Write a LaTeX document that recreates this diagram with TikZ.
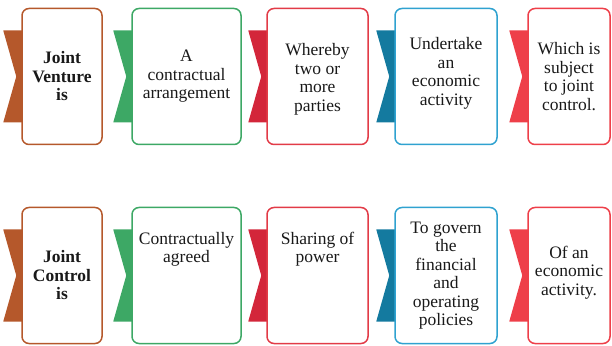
\documentclass[tikz,border=0pt]{standalone}
\usepackage{tikz}
\usepackage{fontspec}
\setmainfont{Liberation Serif}
\usetikzlibrary{positioning, backgrounds}
\definecolor{brn}{HTML}{B5582B}
\definecolor{grn}{HTML}{3DA865}
\definecolor{redt}{HTML}{D3263A}
\definecolor{redb}{HTML}{E23B47}
\definecolor{blut}{HTML}{147A9F}
\definecolor{blub}{HTML}{2FA2D0}
\definecolor{pnk}{HTML}{EE3F49}
\tikzset{
	card/.style={draw=#1, line width=1.5pt, rounded corners=7pt, fill=white, minimum height=136pt, inner sep=0pt},
	txt/.style={align=center, font=\fontsize{17.5}{18.5}\selectfont, inner sep=0pt, text=black!90},
	head/.style={txt, font=\fontsize{17.5}{18.5}\selectfont\bfseries}
}

\begin{document}
\begin{tikzpicture}[x=1pt, y=1pt]
	\useasboundingbox (0,0) rectangle (612,345);
	
	% Cards: V = joint venture row, C = joint control row
	\foreach \n/\cx/\w/\c in {1/62/80/brn, 2/186.5/109/grn, 3/317.5/101/redb, 4/446/102/blub, 5/569/82/pnk} {
		\node[card=\c, minimum width=\w pt] (V-\n) at (\cx,268.5) {};
		\node[card=\c, minimum width=\w pt] (C-\n) at (\cx,69.5) {};
	}
	
	% Tabs behind the cards
	\begin{scope}[on background layer]
		\foreach \n/\c in {1/brn, 2/grn, 3/redt, 4/blut, 5/pnk}
		\foreach \r in {V,C}
		\fill[\c] ([xshift=-18pt, yshift=46pt]\r-\n.west) -- ([xshift=4pt, yshift=46pt]\r-\n.west)
		-- ([xshift=4pt, yshift=-46pt]\r-\n.west) -- ([xshift=-18pt, yshift=-46pt]\r-\n.west)
		-- ([xshift=-5pt]\r-\n.west) -- cycle;
	\end{scope}
	
	% Row 1
	\node[head] (V-1t) at (V-1) {Joint\\Venture\\is};
	\node[txt] (V-2t) at (V-2) {A\\contractual\\arrangement};
	\node[txt] (V-3t) at ([yshift=-3pt]V-3.center) {Whereby\\two or\\more\\parties};
	\node[txt] (V-4t) at ([yshift=3pt]V-4.center) {Undertake\\an\\economic\\activity};
	\node[txt] (V-5t) at (V-5) {Which is\\subject\\to joint\\control.};
	
	% Row 2
	\node[head] (C-1t) at (C-1) {Joint\\Control\\is};
	\node[txt, below=25pt of C-2.north] (C-2t) {Contractually\\agreed};
	\node[txt, below=25pt of C-3.north] (C-3t) {Sharing of\\power};
	\node[txt] (C-4t) at (C-4) {To govern\\the\\financial\\and\\operating\\policies};
	\node[txt] (C-5t) at ([yshift=3pt]C-5.center) {Of an\\economic\\activity.};
\end{tikzpicture}
\end{document}
